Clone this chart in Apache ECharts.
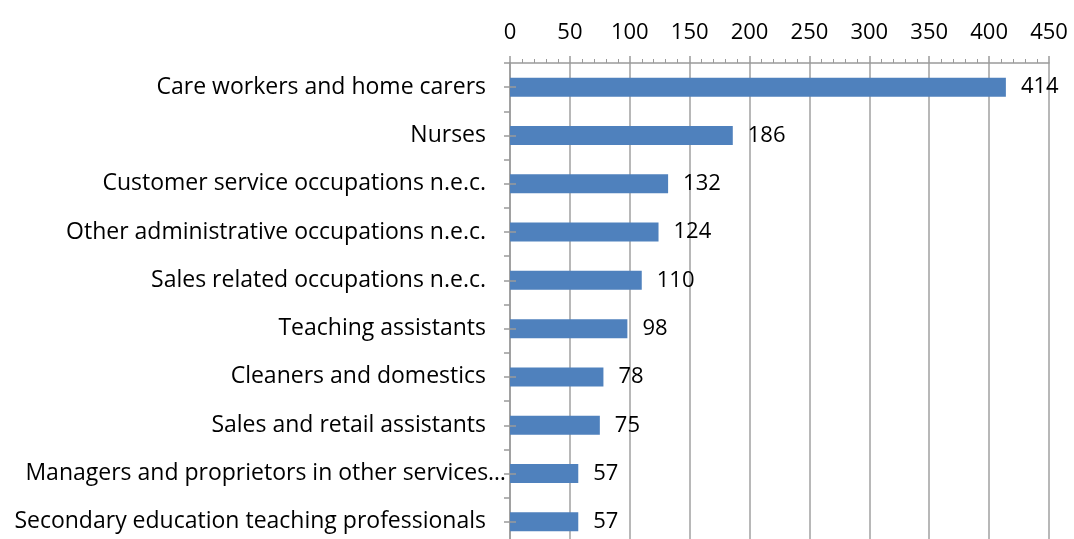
<!DOCTYPE html>
<html><head><meta charset="utf-8">
<script src="https://cdn.jsdelivr.net/npm/echarts@6/dist/echarts.min.js"></script>
<style>html,body{margin:0;padding:0;background:#fff}#c{width:1074px;height:539px}</style>
</head><body><div id="c"></div>
<script>
const categories = [
  "Care workers and home carers",
  "Nurses",
  "Customer service occupations n.e.c.",
  "Other administrative occupations n.e.c.",
  "Sales related occupations n.e.c.",
  "Teaching assistants",
  "Cleaners and domestics",
  "Sales and retail assistants",
  "Managers and proprietors in other services…",
  "Secondary education teaching professionals"
];
const values = [414, 186, 132, 124, 110, 98, 78, 75, 57, 57];
const axisMin = 0, axisMax = 450, axisInterval = 50;

const FONT = "Open Sans";
const catData = categories.map(c => c.endsWith('…') ? {value: c, textStyle: {padding: [0, -20, 0, 0]}} : c);
const tickAxis = (inside) => ({
  type: 'category', data: categories, inverse: true, z: 5, position: 'left', offset: 0,
  axisLine: {show: false},
  axisTick: {show: true, alignWithLabel: true, inside: inside, length: 6, lineStyle: {color: '#9a9a9a', width: 1.5}},
  axisLabel: {show: false}, splitLine: {show: false}
});
const chart = echarts.init(document.getElementById('c'));
chart.setOption({
  animation: false,
  textStyle: {fontFamily: FONT},
  grid: {left: 510, right: 25, top: 63, bottom: -7, containLabel: false, outerBoundsMode: 'none'},
  xAxis: {
    type: 'value', position: 'top', min: axisMin, max: axisMax, interval: axisInterval,
    axisLine: {show: true, lineStyle: {color: '#9a9a9a', width: 1.5}},
    axisTick: {show: true, length: 7, lineStyle: {color: '#9a9a9a', width: 1.5}},
    minorTick: {show: true, splitNumber: 5, length: 4, lineStyle: {color: '#9a9a9a', width: 1}},
    axisLabel: {fontSize: 22, color: '#000', margin: 19, fontFamily: FONT},
    splitLine: {show: true, lineStyle: {color: '#a0a0a0', width: 1.5}}
  },
  yAxis: [{
    type: 'category', data: catData, inverse: true, position: 'left',
    axisLine: {show: true, lineStyle: {color: '#9a9a9a', width: 1.5}},
    axisTick: {show: true, length: 6, lineStyle: {color: '#9a9a9a', width: 1.5}},
    axisLabel: {fontSize: 23, color: '#000', margin: 24, fontFamily: FONT}
  }, tickAxis(false), tickAxis(true)],
  series: [{
    type: 'bar', data: values, barWidth: 19,
    itemStyle: {color: '#4F81BD'},
    label: {show: true, position: 'right', distance: 15, fontSize: 22, color: '#000', fontFamily: FONT}
  }]
});
</script></body></html>
